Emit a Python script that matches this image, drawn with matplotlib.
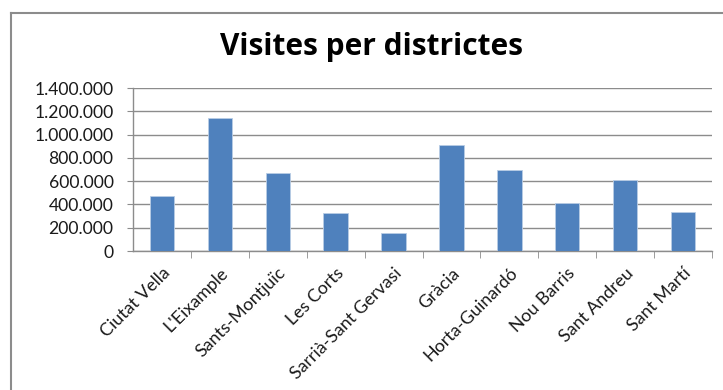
import matplotlib
matplotlib.use("Agg")
import matplotlib.pyplot as plt
from matplotlib.ticker import FuncFormatter
from matplotlib.lines import Line2D

districtes = ["Ciutat Vella", "L'Eixample", "Sants-Montjuïc", "Les Corts",
              "Sarrià-Sant Gervasi", "Gràcia", "Horta-Guinardó", "Nou Barris",
              "Sant Andreu", "Sant Martí"]
visites = [474000, 1140000, 666000, 326000, 157000, 914000, 697000, 414000, 609000, 334000]
yticks = [0, 200000, 400000, 600000, 800000, 1000000, 1200000, 1400000]

W, H = 723, 390
fig = plt.figure(figsize=(W / 100, H / 100), dpi=100)
plt.rcParams['font.family'] = ['Lato', 'DejaVu Sans']

ax = fig.add_axes([133 / W, 1 - 251 / H, (712 - 133) / W, (251 - 88) / H])
x = list(range(len(districtes)))
ax.bar(x, visites, width=0.42, color="#4F81BD", edgecolor="#B9CDE5", linewidth=0.6, zorder=3)
ax.set_xlim(-0.5, len(districtes) - 0.5)
ax.set_ylim(0, 1400000)
ax.set_yticks(yticks)
ax.yaxis.set_major_formatter(FuncFormatter(lambda v, p: f"{int(v):,}".replace(",", ".")))
ax.grid(axis="y", color="#8C8C8C", linewidth=1.0, zorder=0)
for s in ["top", "right"]:
    ax.spines[s].set_visible(False)
for s in ["left", "bottom"]:
    ax.spines[s].set_color("#8C8C8C")
    ax.spines[s].set_linewidth(1.0)
ax.tick_params(axis="y", length=4, color="#8C8C8C", labelsize=12.6, labelcolor="#1a1a1a", pad=10)
ax.set_xticks(x)
ax.set_xticklabels(districtes, rotation=45, ha="right", rotation_mode="anchor", fontsize=12.8, color="#1a1a1a")
ax.tick_params(axis="x", length=0, pad=10)
ax.set_xticks([i + 0.5 for i in range(len(districtes))], minor=True)
ax.tick_params(axis="x", which="minor", length=5, color="#8C8C8C")

fig.text(372 / W, 1 - 47 / H, "Visites per districtes", ha="center", va="center",
         fontsize=21.5, fontweight="bold", family=["Open Sans", "DejaVu Sans"], color="#000000")

# outer chart border (left and top)
fig.add_artist(Line2D([11 / W, 11 / W], [0, 1 - 13 / H], transform=fig.transFigure, color="#8C8C8C", linewidth=1.5))
fig.add_artist(Line2D([11 / W, 1], [1 - 13 / H, 1 - 13 / H], transform=fig.transFigure, color="#8C8C8C", linewidth=1.5))

fig.savefig("out.png", dpi=100)
